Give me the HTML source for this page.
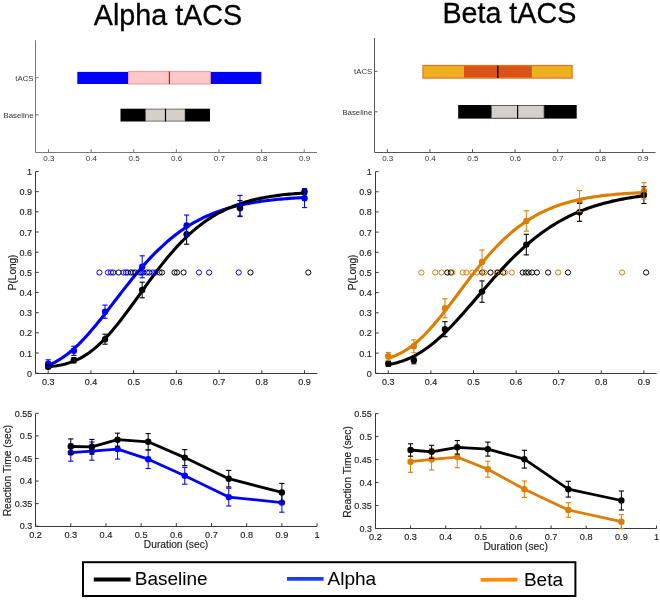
<!DOCTYPE html>
<html><head><meta charset="utf-8"><style>
html,body{margin:0;padding:0;background:#fff;width:660px;height:600px;overflow:hidden}
svg{display:block;will-change:transform}
text{font-family:"Liberation Sans", sans-serif}
</style></head><body>
<svg width="660" height="600" viewBox="0 0 660 600">
<rect x="0" y="0" width="660" height="600" fill="#fff"/>
<text x="93.80" y="24.50" font-size="28.7" fill="#000" stroke="#000" stroke-width="0.30" text-anchor="start" >Alpha tACS</text>
<text x="442.40" y="22.50" font-size="28.7" fill="#000" stroke="#000" stroke-width="0.30" text-anchor="start" >Beta tACS</text>
<line x1="35.50" y1="40.40" x2="35.50" y2="152.50" stroke="#777" stroke-width="1" />
<line x1="35.50" y1="152.50" x2="317.01" y2="152.50" stroke="#777" stroke-width="1" />
<line x1="48.50" y1="152.20" x2="48.50" y2="149.20" stroke="#777" stroke-width="1" />
<text x="48.80" y="160.50" font-size="8.0" fill="#333" stroke="#333" stroke-width="0.00" text-anchor="middle" >0.3</text>
<line x1="91.12" y1="152.20" x2="91.12" y2="149.20" stroke="#777" stroke-width="1" />
<text x="91.42" y="160.50" font-size="8.0" fill="#333" stroke="#333" stroke-width="0.00" text-anchor="middle" >0.4</text>
<line x1="133.74" y1="152.20" x2="133.74" y2="149.20" stroke="#777" stroke-width="1" />
<text x="134.04" y="160.50" font-size="8.0" fill="#333" stroke="#333" stroke-width="0.00" text-anchor="middle" >0.5</text>
<line x1="176.36" y1="152.20" x2="176.36" y2="149.20" stroke="#777" stroke-width="1" />
<text x="176.66" y="160.50" font-size="8.0" fill="#333" stroke="#333" stroke-width="0.00" text-anchor="middle" >0.6</text>
<line x1="218.98" y1="152.20" x2="218.98" y2="149.20" stroke="#777" stroke-width="1" />
<text x="219.28" y="160.50" font-size="8.0" fill="#333" stroke="#333" stroke-width="0.00" text-anchor="middle" >0.7</text>
<line x1="261.60" y1="152.20" x2="261.60" y2="149.20" stroke="#777" stroke-width="1" />
<text x="261.90" y="160.50" font-size="8.0" fill="#333" stroke="#333" stroke-width="0.00" text-anchor="middle" >0.8</text>
<line x1="304.22" y1="152.20" x2="304.22" y2="149.20" stroke="#777" stroke-width="1" />
<text x="304.52" y="160.50" font-size="8.0" fill="#333" stroke="#333" stroke-width="0.00" text-anchor="middle" >0.9</text>
<line x1="35.70" y1="77.70" x2="38.70" y2="77.70" stroke="#777" stroke-width="1" />
<text x="33.50" y="80.50" font-size="7.8" fill="#333" stroke="#333" stroke-width="0.00" text-anchor="end" >tACS</text>
<line x1="35.70" y1="114.90" x2="38.70" y2="114.90" stroke="#777" stroke-width="1" />
<text x="33.50" y="117.70" font-size="7.8" fill="#333" stroke="#333" stroke-width="0.00" text-anchor="end" >Baseline</text>
<rect x="77.30" y="71.90" width="50.80" height="12.10" fill="#0000ff" stroke="none" stroke-width="0"/>
<rect x="128.60" y="71.50" width="81.80" height="12.50" fill="#ffc8c8" stroke="#e4a4a4" stroke-width="1.2"/>
<rect x="210.90" y="71.90" width="50.40" height="12.10" fill="#0000ff" stroke="none" stroke-width="0"/>
<line x1="169.40" y1="71.50" x2="169.40" y2="84.00" stroke="#ff0000" stroke-width="1.2" />
<rect x="120.50" y="108.70" width="25.10" height="12.80" fill="#000" stroke="none" stroke-width="0"/>
<rect x="145.60" y="109.10" width="39.50" height="12.00" fill="#d4d0c8" stroke="#555" stroke-width="0.8"/>
<rect x="185.10" y="108.70" width="24.90" height="12.80" fill="#000" stroke="none" stroke-width="0"/>
<line x1="165.50" y1="108.70" x2="165.50" y2="121.50" stroke="#000" stroke-width="1.2" />
<line x1="374.50" y1="38.00" x2="374.50" y2="152.50" stroke="#555" stroke-width="1" />
<line x1="374.50" y1="152.50" x2="655.46" y2="152.50" stroke="#555" stroke-width="1" />
<line x1="387.40" y1="152.20" x2="387.40" y2="149.20" stroke="#555" stroke-width="1" />
<text x="387.70" y="160.50" font-size="8.0" fill="#333" stroke="#333" stroke-width="0.00" text-anchor="middle" >0.3</text>
<line x1="429.95" y1="152.20" x2="429.95" y2="149.20" stroke="#555" stroke-width="1" />
<text x="430.25" y="160.50" font-size="8.0" fill="#333" stroke="#333" stroke-width="0.00" text-anchor="middle" >0.4</text>
<line x1="472.50" y1="152.20" x2="472.50" y2="149.20" stroke="#555" stroke-width="1" />
<text x="472.80" y="160.50" font-size="8.0" fill="#333" stroke="#333" stroke-width="0.00" text-anchor="middle" >0.5</text>
<line x1="515.05" y1="152.20" x2="515.05" y2="149.20" stroke="#555" stroke-width="1" />
<text x="515.35" y="160.50" font-size="8.0" fill="#333" stroke="#333" stroke-width="0.00" text-anchor="middle" >0.6</text>
<line x1="557.60" y1="152.20" x2="557.60" y2="149.20" stroke="#555" stroke-width="1" />
<text x="557.90" y="160.50" font-size="8.0" fill="#333" stroke="#333" stroke-width="0.00" text-anchor="middle" >0.7</text>
<line x1="600.15" y1="152.20" x2="600.15" y2="149.20" stroke="#555" stroke-width="1" />
<text x="600.45" y="160.50" font-size="8.0" fill="#333" stroke="#333" stroke-width="0.00" text-anchor="middle" >0.8</text>
<line x1="642.70" y1="152.20" x2="642.70" y2="149.20" stroke="#555" stroke-width="1" />
<text x="643.00" y="160.50" font-size="8.0" fill="#333" stroke="#333" stroke-width="0.00" text-anchor="middle" >0.9</text>
<line x1="374.50" y1="71.30" x2="377.50" y2="71.30" stroke="#555" stroke-width="1" />
<text x="372.30" y="74.10" font-size="7.8" fill="#333" stroke="#333" stroke-width="0.00" text-anchor="end" >tACS</text>
<line x1="374.50" y1="111.80" x2="377.50" y2="111.80" stroke="#555" stroke-width="1" />
<text x="372.30" y="114.60" font-size="7.8" fill="#333" stroke="#333" stroke-width="0.00" text-anchor="end" >Baseline</text>
<rect x="423.00" y="65.50" width="149.10" height="12.60" fill="#edb120" stroke="#e8701c" stroke-width="1.2"/>
<rect x="464.00" y="66.10" width="67.80" height="11.40" fill="#d95319" stroke="none" stroke-width="0"/>
<line x1="497.80" y1="65.50" x2="497.80" y2="78.10" stroke="#000" stroke-width="1.3" />
<rect x="458.20" y="105.00" width="118.50" height="13.60" fill="#000" stroke="none" stroke-width="0"/>
<rect x="491.30" y="105.40" width="52.70" height="12.80" fill="#d4d0c8" stroke="#555" stroke-width="0.8"/>
<line x1="517.60" y1="105.00" x2="517.60" y2="118.60" stroke="#000" stroke-width="1.2" />
<line x1="35.50" y1="171.60" x2="35.50" y2="373.50" stroke="#383838" stroke-width="1" />
<line x1="35.50" y1="373.50" x2="317.34" y2="373.50" stroke="#383838" stroke-width="1" />
<line x1="48.20" y1="373.20" x2="48.20" y2="370.20" stroke="#383838" stroke-width="1" />
<text x="48.20" y="384.60" font-size="9" fill="#222" stroke="#222" stroke-width="0.15" text-anchor="middle" >0.3</text>
<line x1="90.92" y1="373.20" x2="90.92" y2="370.20" stroke="#383838" stroke-width="1" />
<text x="90.92" y="384.60" font-size="9" fill="#222" stroke="#222" stroke-width="0.15" text-anchor="middle" >0.4</text>
<line x1="133.64" y1="373.20" x2="133.64" y2="370.20" stroke="#383838" stroke-width="1" />
<text x="133.64" y="384.60" font-size="9" fill="#222" stroke="#222" stroke-width="0.15" text-anchor="middle" >0.5</text>
<line x1="176.36" y1="373.20" x2="176.36" y2="370.20" stroke="#383838" stroke-width="1" />
<text x="176.36" y="384.60" font-size="9" fill="#222" stroke="#222" stroke-width="0.15" text-anchor="middle" >0.6</text>
<line x1="219.08" y1="373.20" x2="219.08" y2="370.20" stroke="#383838" stroke-width="1" />
<text x="219.08" y="384.60" font-size="9" fill="#222" stroke="#222" stroke-width="0.15" text-anchor="middle" >0.7</text>
<line x1="261.80" y1="373.20" x2="261.80" y2="370.20" stroke="#383838" stroke-width="1" />
<text x="261.80" y="384.60" font-size="9" fill="#222" stroke="#222" stroke-width="0.15" text-anchor="middle" >0.8</text>
<line x1="304.52" y1="373.20" x2="304.52" y2="370.20" stroke="#383838" stroke-width="1" />
<text x="304.52" y="384.60" font-size="9" fill="#222" stroke="#222" stroke-width="0.15" text-anchor="middle" >0.9</text>
<line x1="35.70" y1="373.20" x2="38.70" y2="373.20" stroke="#383838" stroke-width="1" />
<text x="31.90" y="376.70" font-size="9" fill="#222" stroke="#222" stroke-width="0.15" text-anchor="end" >0</text>
<line x1="35.70" y1="353.03" x2="38.70" y2="353.03" stroke="#383838" stroke-width="1" />
<text x="31.90" y="356.53" font-size="9" fill="#222" stroke="#222" stroke-width="0.15" text-anchor="end" >0.1</text>
<line x1="35.70" y1="332.86" x2="38.70" y2="332.86" stroke="#383838" stroke-width="1" />
<text x="31.90" y="336.36" font-size="9" fill="#222" stroke="#222" stroke-width="0.15" text-anchor="end" >0.2</text>
<line x1="35.70" y1="312.69" x2="38.70" y2="312.69" stroke="#383838" stroke-width="1" />
<text x="31.90" y="316.19" font-size="9" fill="#222" stroke="#222" stroke-width="0.15" text-anchor="end" >0.3</text>
<line x1="35.70" y1="292.52" x2="38.70" y2="292.52" stroke="#383838" stroke-width="1" />
<text x="31.90" y="296.02" font-size="9" fill="#222" stroke="#222" stroke-width="0.15" text-anchor="end" >0.4</text>
<line x1="35.70" y1="272.35" x2="38.70" y2="272.35" stroke="#383838" stroke-width="1" />
<text x="31.90" y="275.85" font-size="9" fill="#222" stroke="#222" stroke-width="0.15" text-anchor="end" >0.5</text>
<line x1="35.70" y1="252.18" x2="38.70" y2="252.18" stroke="#383838" stroke-width="1" />
<text x="31.90" y="255.68" font-size="9" fill="#222" stroke="#222" stroke-width="0.15" text-anchor="end" >0.6</text>
<line x1="35.70" y1="232.01" x2="38.70" y2="232.01" stroke="#383838" stroke-width="1" />
<text x="31.90" y="235.51" font-size="9" fill="#222" stroke="#222" stroke-width="0.15" text-anchor="end" >0.7</text>
<line x1="35.70" y1="211.84" x2="38.70" y2="211.84" stroke="#383838" stroke-width="1" />
<text x="31.90" y="215.34" font-size="9" fill="#222" stroke="#222" stroke-width="0.15" text-anchor="end" >0.8</text>
<line x1="35.70" y1="191.67" x2="38.70" y2="191.67" stroke="#383838" stroke-width="1" />
<text x="31.90" y="195.17" font-size="9" fill="#222" stroke="#222" stroke-width="0.15" text-anchor="end" >0.9</text>
<line x1="35.70" y1="171.50" x2="38.70" y2="171.50" stroke="#383838" stroke-width="1" />
<text x="31.90" y="175.00" font-size="9" fill="#222" stroke="#222" stroke-width="0.15" text-anchor="end" >1</text>
<text x="0" y="0" font-size="10" fill="#222" stroke="#222" stroke-width="0.15" text-anchor="middle" transform="translate(15.70,272.4) rotate(-90)">P(Long)</text>
<polyline points="48.20,365.20 50.35,364.31 52.51,363.34 54.66,362.28 56.82,361.13 58.97,359.88 61.12,358.55 63.28,357.12 65.43,355.59 67.59,353.98 69.74,352.27 71.89,350.47 74.05,348.58 76.20,346.60 78.36,344.54 80.51,342.40 82.66,340.18 84.82,337.89 86.97,335.52 89.13,333.10 91.28,330.61 93.43,328.07 95.59,325.48 97.74,322.84 99.89,320.17 102.05,317.46 104.20,314.72 106.36,311.96 108.51,309.18 110.66,306.39 112.82,303.59 114.97,300.79 117.13,297.99 119.28,295.19 121.43,292.41 123.59,289.64 125.74,286.90 127.90,284.17 130.05,281.47 132.20,278.81 134.36,276.17 136.51,273.58 138.67,271.02 140.82,268.50 142.97,266.03 145.13,263.60 147.28,261.22 149.44,258.89 151.59,256.61 153.74,254.39 155.90,252.21 158.05,250.09 160.21,248.02 162.36,246.01 164.51,244.05 166.67,242.14 168.82,240.29 170.98,238.50 173.13,236.76 175.28,235.07 177.44,233.44 179.59,231.86 181.74,230.33 183.90,228.85 186.05,227.43 188.21,226.05 190.36,224.73 192.51,223.45 194.67,222.21 196.82,221.03 198.98,219.89 201.13,218.79 203.28,217.73 205.44,216.72 207.59,215.75 209.75,214.81 211.90,213.92 214.05,213.06 216.21,212.23 218.36,211.45 220.52,210.69 222.67,209.97 224.82,209.27 226.98,208.61 229.13,207.98 231.29,207.37 233.44,206.80 235.59,206.24 237.75,205.72 239.90,205.21 242.06,204.73 244.21,204.27 246.36,203.84 248.52,203.42 250.67,203.02 252.83,202.65 254.98,202.28 257.13,201.94 259.29,201.62 261.44,201.30 263.59,201.01 265.75,200.73 267.90,200.46 270.06,200.21 272.21,199.96 274.36,199.73 276.52,199.51 278.67,199.31 280.83,199.11 282.98,198.92 285.13,198.74 287.29,198.58 289.44,198.42 291.60,198.26 293.75,198.12 295.90,197.98 298.06,197.85 300.21,197.73 302.37,197.61 304.52,197.50" fill="none" stroke="#0000ff" stroke-width="3.1" stroke-linecap="round" stroke-linejoin="round"/>
<polyline points="48.20,366.66 50.35,366.47 52.51,366.25 54.66,365.99 56.82,365.68 58.97,365.32 61.12,364.91 63.28,364.44 65.43,363.91 67.59,363.31 69.74,362.64 71.89,361.89 74.05,361.05 76.20,360.14 78.36,359.13 80.51,358.03 82.66,356.84 84.82,355.55 86.97,354.17 89.13,352.68 91.28,351.09 93.43,349.40 95.59,347.61 97.74,345.72 99.89,343.74 102.05,341.65 104.20,339.48 106.36,337.22 108.51,334.87 110.66,332.44 112.82,329.93 114.97,327.35 117.13,324.70 119.28,321.99 121.43,319.23 123.59,316.41 125.74,313.55 127.90,310.65 130.05,307.72 132.20,304.77 134.36,301.79 136.51,298.81 138.67,295.81 140.82,292.81 142.97,289.82 145.13,286.83 147.28,283.86 149.44,280.91 151.59,277.99 153.74,275.09 155.90,272.23 158.05,269.40 160.21,266.62 162.36,263.88 164.51,261.19 166.67,258.55 168.82,255.96 170.98,253.42 173.13,250.95 175.28,248.53 177.44,246.17 179.59,243.88 181.74,241.65 183.90,239.48 186.05,237.37 188.21,235.33 190.36,233.36 192.51,231.44 194.67,229.59 196.82,227.81 198.98,226.09 201.13,224.42 203.28,222.83 205.44,221.29 207.59,219.81 209.75,218.39 211.90,217.02 214.05,215.71 216.21,214.46 218.36,213.26 220.52,212.11 222.67,211.01 224.82,209.96 226.98,208.95 229.13,208.00 231.29,207.08 233.44,206.21 235.59,205.38 237.75,204.59 239.90,203.84 242.06,203.12 244.21,202.45 246.36,201.80 248.52,201.19 250.67,200.61 252.83,200.05 254.98,199.53 257.13,199.04 259.29,198.57 261.44,198.12 263.59,197.70 265.75,197.30 267.90,196.93 270.06,196.57 272.21,196.24 274.36,195.92 276.52,195.62 278.67,195.34 280.83,195.07 282.98,194.82 285.13,194.58 287.29,194.36 289.44,194.15 291.60,193.95 293.75,193.77 295.90,193.59 298.06,193.43 300.21,193.27 302.37,193.13 304.52,192.99" fill="none" stroke="#000" stroke-width="3.1" stroke-linecap="round" stroke-linejoin="round"/>
<circle cx="99.40" cy="272.50" r="2.60" fill="none" stroke="#0000ff" stroke-width="1.0"/>
<circle cx="108.00" cy="272.50" r="2.60" fill="none" stroke="#0000ff" stroke-width="1.0"/>
<circle cx="111.00" cy="272.50" r="2.60" fill="none" stroke="#0000ff" stroke-width="1.0"/>
<circle cx="113.20" cy="272.50" r="2.60" fill="none" stroke="#0000ff" stroke-width="1.0"/>
<circle cx="118.60" cy="272.50" r="2.60" fill="none" stroke="#000" stroke-width="1.0"/>
<circle cx="123.50" cy="272.50" r="2.60" fill="none" stroke="#0000ff" stroke-width="1.0"/>
<circle cx="125.90" cy="272.50" r="2.60" fill="none" stroke="#0000ff" stroke-width="1.0"/>
<circle cx="127.70" cy="272.50" r="2.60" fill="none" stroke="#0000ff" stroke-width="1.0"/>
<circle cx="130.80" cy="272.50" r="2.60" fill="none" stroke="#000" stroke-width="1.0"/>
<circle cx="132.90" cy="272.50" r="2.60" fill="none" stroke="#0000ff" stroke-width="1.0"/>
<circle cx="135.30" cy="272.50" r="2.60" fill="none" stroke="#000" stroke-width="1.0"/>
<circle cx="139.50" cy="272.50" r="2.60" fill="none" stroke="#0000ff" stroke-width="1.0"/>
<circle cx="141.40" cy="272.50" r="2.60" fill="none" stroke="#000" stroke-width="1.0"/>
<circle cx="143.20" cy="272.50" r="2.60" fill="none" stroke="#0000ff" stroke-width="1.0"/>
<circle cx="146.80" cy="272.50" r="2.60" fill="none" stroke="#0000ff" stroke-width="1.0"/>
<circle cx="149.20" cy="272.50" r="2.60" fill="none" stroke="#000" stroke-width="1.0"/>
<circle cx="152.30" cy="272.50" r="2.60" fill="none" stroke="#0000ff" stroke-width="1.0"/>
<circle cx="155.30" cy="272.50" r="2.60" fill="none" stroke="#0000ff" stroke-width="1.0"/>
<circle cx="159.50" cy="272.50" r="2.60" fill="none" stroke="#000" stroke-width="1.0"/>
<circle cx="162.00" cy="272.50" r="2.60" fill="none" stroke="#000" stroke-width="1.0"/>
<circle cx="174.50" cy="272.50" r="2.60" fill="none" stroke="#000" stroke-width="1.0"/>
<circle cx="177.00" cy="272.50" r="2.60" fill="none" stroke="#000" stroke-width="1.0"/>
<circle cx="183.60" cy="272.50" r="2.60" fill="none" stroke="#000" stroke-width="1.0"/>
<circle cx="199.00" cy="272.50" r="2.60" fill="none" stroke="#0000ff" stroke-width="1.0"/>
<circle cx="209.10" cy="272.50" r="2.60" fill="none" stroke="#0000ff" stroke-width="1.0"/>
<circle cx="238.70" cy="272.50" r="2.60" fill="none" stroke="#0000ff" stroke-width="1.0"/>
<circle cx="250.50" cy="272.50" r="2.60" fill="none" stroke="#000" stroke-width="1.0"/>
<circle cx="308.30" cy="272.50" r="2.60" fill="none" stroke="#000" stroke-width="1.0"/>
<circle cx="48.20" cy="363.60" r="3.20" fill="#0000ff" stroke="none" stroke-width="0"/>
<circle cx="73.83" cy="350.80" r="3.20" fill="#0000ff" stroke="none" stroke-width="0"/>
<circle cx="105.02" cy="311.70" r="3.20" fill="#0000ff" stroke="none" stroke-width="0"/>
<circle cx="142.18" cy="266.80" r="3.20" fill="#0000ff" stroke="none" stroke-width="0"/>
<circle cx="186.61" cy="225.50" r="3.20" fill="#0000ff" stroke="none" stroke-width="0"/>
<circle cx="240.01" cy="206.00" r="3.20" fill="#0000ff" stroke="none" stroke-width="0"/>
<circle cx="304.52" cy="198.30" r="3.20" fill="#0000ff" stroke="none" stroke-width="0"/>
<circle cx="48.20" cy="366.70" r="3.20" fill="#000" stroke="none" stroke-width="0"/>
<circle cx="73.83" cy="360.30" r="3.20" fill="#000" stroke="none" stroke-width="0"/>
<circle cx="105.02" cy="339.20" r="3.20" fill="#000" stroke="none" stroke-width="0"/>
<circle cx="142.18" cy="290.00" r="3.20" fill="#000" stroke="none" stroke-width="0"/>
<circle cx="186.61" cy="234.20" r="3.20" fill="#000" stroke="none" stroke-width="0"/>
<circle cx="240.01" cy="208.30" r="3.20" fill="#000" stroke="none" stroke-width="0"/>
<circle cx="304.52" cy="191.70" r="3.20" fill="#000" stroke="none" stroke-width="0"/>
<line x1="48.20" y1="364.70" x2="48.20" y2="368.70" stroke="#000" stroke-width="1" />
<line x1="45.60" y1="364.70" x2="50.80" y2="364.70" stroke="#000" stroke-width="1.1" />
<line x1="45.60" y1="368.70" x2="50.80" y2="368.70" stroke="#000" stroke-width="1.1" />
<line x1="73.83" y1="357.80" x2="73.83" y2="362.80" stroke="#000" stroke-width="1" />
<line x1="71.23" y1="357.80" x2="76.43" y2="357.80" stroke="#000" stroke-width="1.1" />
<line x1="71.23" y1="362.80" x2="76.43" y2="362.80" stroke="#000" stroke-width="1.1" />
<line x1="105.02" y1="334.20" x2="105.02" y2="344.20" stroke="#000" stroke-width="1" />
<line x1="102.42" y1="334.20" x2="107.62" y2="334.20" stroke="#000" stroke-width="1.1" />
<line x1="102.42" y1="344.20" x2="107.62" y2="344.20" stroke="#000" stroke-width="1.1" />
<line x1="142.18" y1="282.20" x2="142.18" y2="297.80" stroke="#000" stroke-width="1" />
<line x1="139.58" y1="282.20" x2="144.78" y2="282.20" stroke="#000" stroke-width="1.1" />
<line x1="139.58" y1="297.80" x2="144.78" y2="297.80" stroke="#000" stroke-width="1.1" />
<line x1="186.61" y1="224.20" x2="186.61" y2="244.20" stroke="#000" stroke-width="1" />
<line x1="184.01" y1="224.20" x2="189.21" y2="224.20" stroke="#000" stroke-width="1.1" />
<line x1="184.01" y1="244.20" x2="189.21" y2="244.20" stroke="#000" stroke-width="1.1" />
<line x1="240.01" y1="200.60" x2="240.01" y2="216.00" stroke="#000" stroke-width="1" />
<line x1="237.41" y1="200.60" x2="242.61" y2="200.60" stroke="#000" stroke-width="1.1" />
<line x1="237.41" y1="216.00" x2="242.61" y2="216.00" stroke="#000" stroke-width="1.1" />
<line x1="304.52" y1="188.70" x2="304.52" y2="194.70" stroke="#000" stroke-width="1" />
<line x1="301.92" y1="188.70" x2="307.12" y2="188.70" stroke="#000" stroke-width="1.1" />
<line x1="301.92" y1="194.70" x2="307.12" y2="194.70" stroke="#000" stroke-width="1.1" />
<line x1="48.20" y1="359.80" x2="48.20" y2="367.40" stroke="#0000ff" stroke-width="1" />
<line x1="45.60" y1="359.80" x2="50.80" y2="359.80" stroke="#0000ff" stroke-width="1.1" />
<line x1="45.60" y1="367.40" x2="50.80" y2="367.40" stroke="#0000ff" stroke-width="1.1" />
<line x1="73.83" y1="346.20" x2="73.83" y2="355.40" stroke="#0000ff" stroke-width="1" />
<line x1="71.23" y1="346.20" x2="76.43" y2="346.20" stroke="#0000ff" stroke-width="1.1" />
<line x1="71.23" y1="355.40" x2="76.43" y2="355.40" stroke="#0000ff" stroke-width="1.1" />
<line x1="105.02" y1="305.10" x2="105.02" y2="318.30" stroke="#0000ff" stroke-width="1" />
<line x1="102.42" y1="305.10" x2="107.62" y2="305.10" stroke="#0000ff" stroke-width="1.1" />
<line x1="102.42" y1="318.30" x2="107.62" y2="318.30" stroke="#0000ff" stroke-width="1.1" />
<line x1="142.18" y1="255.80" x2="142.18" y2="277.80" stroke="#0000ff" stroke-width="1" />
<line x1="139.58" y1="255.80" x2="144.78" y2="255.80" stroke="#0000ff" stroke-width="1.1" />
<line x1="139.58" y1="277.80" x2="144.78" y2="277.80" stroke="#0000ff" stroke-width="1.1" />
<line x1="186.61" y1="215.00" x2="186.61" y2="236.00" stroke="#0000ff" stroke-width="1" />
<line x1="184.01" y1="215.00" x2="189.21" y2="215.00" stroke="#0000ff" stroke-width="1.1" />
<line x1="184.01" y1="236.00" x2="189.21" y2="236.00" stroke="#0000ff" stroke-width="1.1" />
<line x1="240.01" y1="195.40" x2="240.01" y2="216.60" stroke="#0000ff" stroke-width="1" />
<line x1="237.41" y1="195.40" x2="242.61" y2="195.40" stroke="#0000ff" stroke-width="1.1" />
<line x1="237.41" y1="216.60" x2="242.61" y2="216.60" stroke="#0000ff" stroke-width="1.1" />
<line x1="304.52" y1="189.00" x2="304.52" y2="207.60" stroke="#0000ff" stroke-width="1" />
<line x1="301.92" y1="189.00" x2="307.12" y2="189.00" stroke="#0000ff" stroke-width="1.1" />
<line x1="301.92" y1="207.60" x2="307.12" y2="207.60" stroke="#0000ff" stroke-width="1.1" />
<line x1="375.50" y1="171.60" x2="375.50" y2="373.50" stroke="#383838" stroke-width="1" />
<line x1="375.50" y1="373.50" x2="656.68" y2="373.50" stroke="#383838" stroke-width="1" />
<line x1="388.30" y1="373.30" x2="388.30" y2="370.30" stroke="#383838" stroke-width="1" />
<text x="388.30" y="384.60" font-size="9" fill="#222" stroke="#222" stroke-width="0.15" text-anchor="middle" >0.3</text>
<line x1="430.90" y1="373.30" x2="430.90" y2="370.30" stroke="#383838" stroke-width="1" />
<text x="430.90" y="384.60" font-size="9" fill="#222" stroke="#222" stroke-width="0.15" text-anchor="middle" >0.4</text>
<line x1="473.50" y1="373.30" x2="473.50" y2="370.30" stroke="#383838" stroke-width="1" />
<text x="473.50" y="384.60" font-size="9" fill="#222" stroke="#222" stroke-width="0.15" text-anchor="middle" >0.5</text>
<line x1="516.10" y1="373.30" x2="516.10" y2="370.30" stroke="#383838" stroke-width="1" />
<text x="516.10" y="384.60" font-size="9" fill="#222" stroke="#222" stroke-width="0.15" text-anchor="middle" >0.6</text>
<line x1="558.70" y1="373.30" x2="558.70" y2="370.30" stroke="#383838" stroke-width="1" />
<text x="558.70" y="384.60" font-size="9" fill="#222" stroke="#222" stroke-width="0.15" text-anchor="middle" >0.7</text>
<line x1="601.30" y1="373.30" x2="601.30" y2="370.30" stroke="#383838" stroke-width="1" />
<text x="601.30" y="384.60" font-size="9" fill="#222" stroke="#222" stroke-width="0.15" text-anchor="middle" >0.8</text>
<line x1="643.90" y1="373.30" x2="643.90" y2="370.30" stroke="#383838" stroke-width="1" />
<text x="643.90" y="384.60" font-size="9" fill="#222" stroke="#222" stroke-width="0.15" text-anchor="middle" >0.9</text>
<line x1="375.60" y1="373.30" x2="378.60" y2="373.30" stroke="#383838" stroke-width="1" />
<text x="371.80" y="376.80" font-size="9" fill="#222" stroke="#222" stroke-width="0.15" text-anchor="end" >0</text>
<line x1="375.60" y1="353.13" x2="378.60" y2="353.13" stroke="#383838" stroke-width="1" />
<text x="371.80" y="356.63" font-size="9" fill="#222" stroke="#222" stroke-width="0.15" text-anchor="end" >0.1</text>
<line x1="375.60" y1="332.96" x2="378.60" y2="332.96" stroke="#383838" stroke-width="1" />
<text x="371.80" y="336.46" font-size="9" fill="#222" stroke="#222" stroke-width="0.15" text-anchor="end" >0.2</text>
<line x1="375.60" y1="312.79" x2="378.60" y2="312.79" stroke="#383838" stroke-width="1" />
<text x="371.80" y="316.29" font-size="9" fill="#222" stroke="#222" stroke-width="0.15" text-anchor="end" >0.3</text>
<line x1="375.60" y1="292.62" x2="378.60" y2="292.62" stroke="#383838" stroke-width="1" />
<text x="371.80" y="296.12" font-size="9" fill="#222" stroke="#222" stroke-width="0.15" text-anchor="end" >0.4</text>
<line x1="375.60" y1="272.45" x2="378.60" y2="272.45" stroke="#383838" stroke-width="1" />
<text x="371.80" y="275.95" font-size="9" fill="#222" stroke="#222" stroke-width="0.15" text-anchor="end" >0.5</text>
<line x1="375.60" y1="252.28" x2="378.60" y2="252.28" stroke="#383838" stroke-width="1" />
<text x="371.80" y="255.78" font-size="9" fill="#222" stroke="#222" stroke-width="0.15" text-anchor="end" >0.6</text>
<line x1="375.60" y1="232.11" x2="378.60" y2="232.11" stroke="#383838" stroke-width="1" />
<text x="371.80" y="235.61" font-size="9" fill="#222" stroke="#222" stroke-width="0.15" text-anchor="end" >0.7</text>
<line x1="375.60" y1="211.94" x2="378.60" y2="211.94" stroke="#383838" stroke-width="1" />
<text x="371.80" y="215.44" font-size="9" fill="#222" stroke="#222" stroke-width="0.15" text-anchor="end" >0.8</text>
<line x1="375.60" y1="191.77" x2="378.60" y2="191.77" stroke="#383838" stroke-width="1" />
<text x="371.80" y="195.27" font-size="9" fill="#222" stroke="#222" stroke-width="0.15" text-anchor="end" >0.9</text>
<line x1="375.60" y1="171.60" x2="378.60" y2="171.60" stroke="#383838" stroke-width="1" />
<text x="371.80" y="175.10" font-size="9" fill="#222" stroke="#222" stroke-width="0.15" text-anchor="end" >1</text>
<text x="0" y="0" font-size="10" fill="#222" stroke="#222" stroke-width="0.15" text-anchor="middle" transform="translate(355.60,272.4) rotate(-90)">P(Long)</text>
<polyline points="388.30,358.13 390.45,357.46 392.60,356.71 394.74,355.88 396.89,354.97 399.04,353.96 401.19,352.87 403.34,351.68 405.48,350.39 407.63,349.01 409.78,347.53 411.93,345.95 414.07,344.27 416.22,342.50 418.37,340.63 420.52,338.67 422.67,336.62 424.81,334.48 426.96,332.25 429.11,329.95 431.26,327.57 433.41,325.12 435.55,322.61 437.70,320.03 439.85,317.41 442.00,314.73 444.15,312.00 446.29,309.24 448.44,306.45 450.59,303.64 452.74,300.80 454.88,297.95 457.03,295.09 459.18,292.23 461.33,289.37 463.48,286.51 465.62,283.67 467.77,280.85 469.92,278.05 472.07,275.28 474.22,272.54 476.36,269.83 478.51,267.15 480.66,264.52 482.81,261.93 484.96,259.39 487.10,256.90 489.25,254.46 491.40,252.07 493.55,249.73 495.69,247.45 497.84,245.23 499.99,243.06 502.14,240.96 504.29,238.91 506.43,236.92 508.58,234.99 510.73,233.12 512.88,231.31 515.03,229.56 517.17,227.86 519.32,226.23 521.47,224.65 523.62,223.13 525.77,221.66 527.91,220.25 530.06,218.89 532.21,217.58 534.36,216.33 536.51,215.12 538.65,213.96 540.80,212.85 542.95,211.79 545.10,210.77 547.24,209.80 549.39,208.87 551.54,207.98 553.69,207.12 555.84,206.31 557.98,205.53 560.13,204.79 562.28,204.08 564.43,203.41 566.58,202.77 568.72,202.16 570.87,201.57 573.02,201.02 575.17,200.49 577.32,199.99 579.46,199.52 581.61,199.06 583.76,198.63 585.91,198.23 588.05,197.84 590.20,197.47 592.35,197.12 594.50,196.79 596.65,196.48 598.79,196.18 600.94,195.90 603.09,195.63 605.24,195.38 607.39,195.14 609.53,194.92 611.68,194.71 613.83,194.50 615.98,194.31 618.13,194.13 620.27,193.96 622.42,193.80 624.57,193.65 626.72,193.51 628.86,193.37 631.01,193.24 633.16,193.12 635.31,193.01 637.46,192.90 639.60,192.80 641.75,192.70 643.90,192.61" fill="none" stroke="#dc7e02" stroke-width="3.1" stroke-linecap="round" stroke-linejoin="round"/>
<polyline points="388.30,364.49 390.45,364.10 392.60,363.67 394.74,363.18 396.89,362.64 399.04,362.04 401.19,361.38 403.34,360.66 405.48,359.87 407.63,359.01 409.78,358.09 411.93,357.09 414.07,356.02 416.22,354.88 418.37,353.67 420.52,352.38 422.67,351.01 424.81,349.57 426.96,348.06 429.11,346.47 431.26,344.82 433.41,343.09 435.55,341.29 437.70,339.43 439.85,337.51 442.00,335.52 444.15,333.48 446.29,331.38 448.44,329.23 450.59,327.02 452.74,324.78 454.88,322.49 457.03,320.16 459.18,317.80 461.33,315.41 463.48,312.99 465.62,310.55 467.77,308.09 469.92,305.61 472.07,303.12 474.22,300.63 476.36,298.13 478.51,295.62 480.66,293.12 482.81,290.63 484.96,288.14 487.10,285.66 489.25,283.20 491.40,280.76 493.55,278.33 495.69,275.93 497.84,273.55 499.99,271.20 502.14,268.88 504.29,266.59 506.43,264.34 508.58,262.11 510.73,259.92 512.88,257.77 515.03,255.66 517.17,253.59 519.32,251.56 521.47,249.56 523.62,247.61 525.77,245.71 527.91,243.84 530.06,242.02 532.21,240.24 534.36,238.50 536.51,236.81 538.65,235.16 540.80,233.56 542.95,231.99 545.10,230.47 547.24,229.00 549.39,227.56 551.54,226.17 553.69,224.82 555.84,223.51 557.98,222.24 560.13,221.01 562.28,219.81 564.43,218.66 566.58,217.54 568.72,216.46 570.87,215.42 573.02,214.41 575.17,213.44 577.32,212.50 579.46,211.59 581.61,210.71 583.76,209.87 585.91,209.06 588.05,208.27 590.20,207.52 592.35,206.79 594.50,206.09 596.65,205.41 598.79,204.77 600.94,204.14 603.09,203.54 605.24,202.97 607.39,202.41 609.53,201.88 611.68,201.37 613.83,200.88 615.98,200.41 618.13,199.96 620.27,199.53 622.42,199.11 624.57,198.71 626.72,198.33 628.86,197.97 631.01,197.62 633.16,197.28 635.31,196.96 637.46,196.65 639.60,196.36 641.75,196.07 643.90,195.80" fill="none" stroke="#000" stroke-width="3.1" stroke-linecap="round" stroke-linejoin="round"/>
<circle cx="421.40" cy="272.50" r="2.60" fill="none" stroke="#dc7e02" stroke-width="1.0"/>
<circle cx="435.20" cy="272.50" r="2.60" fill="none" stroke="#dc7e02" stroke-width="1.0"/>
<circle cx="441.50" cy="272.50" r="2.60" fill="none" stroke="#dc7e02" stroke-width="1.0"/>
<circle cx="447.30" cy="272.50" r="2.60" fill="none" stroke="#000" stroke-width="1.0"/>
<circle cx="450.90" cy="272.50" r="2.60" fill="none" stroke="#000" stroke-width="1.0"/>
<circle cx="452.30" cy="272.50" r="2.60" fill="none" stroke="#dc7e02" stroke-width="1.0"/>
<circle cx="462.70" cy="272.50" r="2.60" fill="none" stroke="#dc7e02" stroke-width="1.0"/>
<circle cx="466.40" cy="272.50" r="2.60" fill="none" stroke="#dc7e02" stroke-width="1.0"/>
<circle cx="472.30" cy="272.50" r="2.60" fill="none" stroke="#dc7e02" stroke-width="1.0"/>
<circle cx="476.80" cy="272.50" r="2.60" fill="none" stroke="#dc7e02" stroke-width="1.0"/>
<circle cx="482.30" cy="272.50" r="2.60" fill="none" stroke="#000" stroke-width="1.0"/>
<circle cx="484.50" cy="272.50" r="2.60" fill="none" stroke="#dc7e02" stroke-width="1.0"/>
<circle cx="490.50" cy="272.50" r="2.60" fill="none" stroke="#000" stroke-width="1.0"/>
<circle cx="496.40" cy="272.50" r="2.60" fill="none" stroke="#dc7e02" stroke-width="1.0"/>
<circle cx="497.70" cy="272.50" r="2.60" fill="none" stroke="#000" stroke-width="1.0"/>
<circle cx="503.20" cy="272.50" r="2.60" fill="none" stroke="#000" stroke-width="1.0"/>
<circle cx="505.00" cy="272.50" r="2.60" fill="none" stroke="#dc7e02" stroke-width="1.0"/>
<circle cx="511.80" cy="272.50" r="2.60" fill="none" stroke="#dc7e02" stroke-width="1.0"/>
<circle cx="522.70" cy="272.50" r="2.60" fill="none" stroke="#000" stroke-width="1.0"/>
<circle cx="525.90" cy="272.50" r="2.60" fill="none" stroke="#000" stroke-width="1.0"/>
<circle cx="528.60" cy="272.50" r="2.60" fill="none" stroke="#000" stroke-width="1.0"/>
<circle cx="532.00" cy="272.50" r="2.60" fill="none" stroke="#000" stroke-width="1.0"/>
<circle cx="536.90" cy="272.50" r="2.60" fill="none" stroke="#000" stroke-width="1.0"/>
<circle cx="548.10" cy="272.50" r="2.60" fill="none" stroke="#000" stroke-width="1.0"/>
<circle cx="558.10" cy="272.50" r="2.60" fill="none" stroke="#dc7e02" stroke-width="1.0"/>
<circle cx="568.00" cy="272.50" r="2.60" fill="none" stroke="#000" stroke-width="1.0"/>
<circle cx="622.10" cy="272.50" r="2.60" fill="none" stroke="#dc7e02" stroke-width="1.0"/>
<circle cx="646.10" cy="272.50" r="2.60" fill="none" stroke="#000" stroke-width="1.0"/>
<circle cx="388.30" cy="356.30" r="3.20" fill="#dc7e02" stroke="none" stroke-width="0"/>
<circle cx="413.86" cy="346.30" r="3.20" fill="#dc7e02" stroke="none" stroke-width="0"/>
<circle cx="444.96" cy="308.30" r="3.20" fill="#dc7e02" stroke="none" stroke-width="0"/>
<circle cx="482.02" cy="262.00" r="3.20" fill="#dc7e02" stroke="none" stroke-width="0"/>
<circle cx="526.32" cy="221.00" r="3.20" fill="#dc7e02" stroke="none" stroke-width="0"/>
<circle cx="579.57" cy="201.10" r="3.20" fill="#dc7e02" stroke="none" stroke-width="0"/>
<circle cx="643.90" cy="190.90" r="3.20" fill="#dc7e02" stroke="none" stroke-width="0"/>
<circle cx="388.30" cy="363.70" r="3.20" fill="#000" stroke="none" stroke-width="0"/>
<circle cx="413.86" cy="360.30" r="3.20" fill="#000" stroke="none" stroke-width="0"/>
<circle cx="444.96" cy="329.20" r="3.20" fill="#000" stroke="none" stroke-width="0"/>
<circle cx="482.02" cy="291.60" r="3.20" fill="#000" stroke="none" stroke-width="0"/>
<circle cx="526.32" cy="244.60" r="3.20" fill="#000" stroke="none" stroke-width="0"/>
<circle cx="579.57" cy="212.30" r="3.20" fill="#000" stroke="none" stroke-width="0"/>
<circle cx="643.90" cy="195.10" r="3.20" fill="#000" stroke="none" stroke-width="0"/>
<line x1="388.30" y1="361.20" x2="388.30" y2="366.20" stroke="#000" stroke-width="1" />
<line x1="385.70" y1="361.20" x2="390.90" y2="361.20" stroke="#000" stroke-width="1.1" />
<line x1="385.70" y1="366.20" x2="390.90" y2="366.20" stroke="#000" stroke-width="1.1" />
<line x1="413.86" y1="356.80" x2="413.86" y2="363.80" stroke="#000" stroke-width="1" />
<line x1="411.26" y1="356.80" x2="416.46" y2="356.80" stroke="#000" stroke-width="1.1" />
<line x1="411.26" y1="363.80" x2="416.46" y2="363.80" stroke="#000" stroke-width="1.1" />
<line x1="444.96" y1="321.70" x2="444.96" y2="336.70" stroke="#000" stroke-width="1" />
<line x1="442.36" y1="321.70" x2="447.56" y2="321.70" stroke="#000" stroke-width="1.1" />
<line x1="442.36" y1="336.70" x2="447.56" y2="336.70" stroke="#000" stroke-width="1.1" />
<line x1="482.02" y1="280.90" x2="482.02" y2="302.30" stroke="#000" stroke-width="1" />
<line x1="479.42" y1="280.90" x2="484.62" y2="280.90" stroke="#000" stroke-width="1.1" />
<line x1="479.42" y1="302.30" x2="484.62" y2="302.30" stroke="#000" stroke-width="1.1" />
<line x1="526.32" y1="234.30" x2="526.32" y2="254.90" stroke="#000" stroke-width="1" />
<line x1="523.72" y1="234.30" x2="528.92" y2="234.30" stroke="#000" stroke-width="1.1" />
<line x1="523.72" y1="254.90" x2="528.92" y2="254.90" stroke="#000" stroke-width="1.1" />
<line x1="579.57" y1="203.30" x2="579.57" y2="221.30" stroke="#000" stroke-width="1" />
<line x1="576.97" y1="203.30" x2="582.17" y2="203.30" stroke="#000" stroke-width="1.1" />
<line x1="576.97" y1="221.30" x2="582.17" y2="221.30" stroke="#000" stroke-width="1.1" />
<line x1="643.90" y1="186.70" x2="643.90" y2="203.50" stroke="#000" stroke-width="1" />
<line x1="641.30" y1="186.70" x2="646.50" y2="186.70" stroke="#000" stroke-width="1.1" />
<line x1="641.30" y1="203.50" x2="646.50" y2="203.50" stroke="#000" stroke-width="1.1" />
<line x1="388.30" y1="352.40" x2="388.30" y2="360.20" stroke="#dc7e02" stroke-width="1" />
<line x1="385.70" y1="352.40" x2="390.90" y2="352.40" stroke="#dc7e02" stroke-width="1.1" />
<line x1="385.70" y1="360.20" x2="390.90" y2="360.20" stroke="#dc7e02" stroke-width="1.1" />
<line x1="413.86" y1="339.80" x2="413.86" y2="352.80" stroke="#dc7e02" stroke-width="1" />
<line x1="411.26" y1="339.80" x2="416.46" y2="339.80" stroke="#dc7e02" stroke-width="1.1" />
<line x1="411.26" y1="352.80" x2="416.46" y2="352.80" stroke="#dc7e02" stroke-width="1.1" />
<line x1="444.96" y1="298.80" x2="444.96" y2="317.80" stroke="#dc7e02" stroke-width="1" />
<line x1="442.36" y1="298.80" x2="447.56" y2="298.80" stroke="#dc7e02" stroke-width="1.1" />
<line x1="442.36" y1="317.80" x2="447.56" y2="317.80" stroke="#dc7e02" stroke-width="1.1" />
<line x1="482.02" y1="250.00" x2="482.02" y2="274.00" stroke="#dc7e02" stroke-width="1" />
<line x1="479.42" y1="250.00" x2="484.62" y2="250.00" stroke="#dc7e02" stroke-width="1.1" />
<line x1="479.42" y1="274.00" x2="484.62" y2="274.00" stroke="#dc7e02" stroke-width="1.1" />
<line x1="526.32" y1="210.80" x2="526.32" y2="231.20" stroke="#dc7e02" stroke-width="1" />
<line x1="523.72" y1="210.80" x2="528.92" y2="210.80" stroke="#dc7e02" stroke-width="1.1" />
<line x1="523.72" y1="231.20" x2="528.92" y2="231.20" stroke="#dc7e02" stroke-width="1.1" />
<line x1="579.57" y1="190.50" x2="579.57" y2="211.70" stroke="#dc7e02" stroke-width="1" />
<line x1="576.97" y1="190.50" x2="582.17" y2="190.50" stroke="#dc7e02" stroke-width="1.1" />
<line x1="576.97" y1="211.70" x2="582.17" y2="211.70" stroke="#dc7e02" stroke-width="1.1" />
<line x1="643.90" y1="182.70" x2="643.90" y2="199.10" stroke="#dc7e02" stroke-width="1" />
<line x1="641.30" y1="182.70" x2="646.50" y2="182.70" stroke="#dc7e02" stroke-width="1.1" />
<line x1="641.30" y1="199.10" x2="646.50" y2="199.10" stroke="#dc7e02" stroke-width="1.1" />
<line x1="35.50" y1="413.30" x2="35.50" y2="526.50" stroke="#383838" stroke-width="1" />
<line x1="35.50" y1="526.50" x2="317.04" y2="526.50" stroke="#383838" stroke-width="1" />
<line x1="35.60" y1="526.20" x2="35.60" y2="523.20" stroke="#383838" stroke-width="1" />
<text x="35.60" y="538.00" font-size="9.2" fill="#222" stroke="#222" stroke-width="0.15" text-anchor="middle" >0.2</text>
<line x1="70.78" y1="526.20" x2="70.78" y2="523.20" stroke="#383838" stroke-width="1" />
<text x="70.78" y="538.00" font-size="9.2" fill="#222" stroke="#222" stroke-width="0.15" text-anchor="middle" >0.3</text>
<line x1="105.96" y1="526.20" x2="105.96" y2="523.20" stroke="#383838" stroke-width="1" />
<text x="105.96" y="538.00" font-size="9.2" fill="#222" stroke="#222" stroke-width="0.15" text-anchor="middle" >0.4</text>
<line x1="141.14" y1="526.20" x2="141.14" y2="523.20" stroke="#383838" stroke-width="1" />
<text x="141.14" y="538.00" font-size="9.2" fill="#222" stroke="#222" stroke-width="0.15" text-anchor="middle" >0.5</text>
<line x1="176.32" y1="526.20" x2="176.32" y2="523.20" stroke="#383838" stroke-width="1" />
<text x="176.32" y="538.00" font-size="9.2" fill="#222" stroke="#222" stroke-width="0.15" text-anchor="middle" >0.6</text>
<line x1="211.50" y1="526.20" x2="211.50" y2="523.20" stroke="#383838" stroke-width="1" />
<text x="211.50" y="538.00" font-size="9.2" fill="#222" stroke="#222" stroke-width="0.15" text-anchor="middle" >0.7</text>
<line x1="246.68" y1="526.20" x2="246.68" y2="523.20" stroke="#383838" stroke-width="1" />
<text x="246.68" y="538.00" font-size="9.2" fill="#222" stroke="#222" stroke-width="0.15" text-anchor="middle" >0.8</text>
<line x1="281.86" y1="526.20" x2="281.86" y2="523.20" stroke="#383838" stroke-width="1" />
<text x="281.86" y="538.00" font-size="9.2" fill="#222" stroke="#222" stroke-width="0.15" text-anchor="middle" >0.9</text>
<line x1="317.04" y1="526.20" x2="317.04" y2="523.20" stroke="#383838" stroke-width="1" />
<text x="317.04" y="538.00" font-size="9.2" fill="#222" stroke="#222" stroke-width="0.15" text-anchor="middle" >1</text>
<line x1="35.70" y1="526.20" x2="38.70" y2="526.20" stroke="#383838" stroke-width="1" />
<text x="32.20" y="529.40" font-size="9" fill="#222" stroke="#222" stroke-width="0.15" text-anchor="end" >0.3</text>
<line x1="35.70" y1="503.62" x2="38.70" y2="503.62" stroke="#383838" stroke-width="1" />
<text x="32.20" y="506.82" font-size="9" fill="#222" stroke="#222" stroke-width="0.15" text-anchor="end" >0.35</text>
<line x1="35.70" y1="481.04" x2="38.70" y2="481.04" stroke="#383838" stroke-width="1" />
<text x="32.20" y="484.24" font-size="9" fill="#222" stroke="#222" stroke-width="0.15" text-anchor="end" >0.4</text>
<line x1="35.70" y1="458.46" x2="38.70" y2="458.46" stroke="#383838" stroke-width="1" />
<text x="32.20" y="461.66" font-size="9" fill="#222" stroke="#222" stroke-width="0.15" text-anchor="end" >0.45</text>
<line x1="35.70" y1="435.88" x2="38.70" y2="435.88" stroke="#383838" stroke-width="1" />
<text x="32.20" y="439.08" font-size="9" fill="#222" stroke="#222" stroke-width="0.15" text-anchor="end" >0.5</text>
<line x1="35.70" y1="413.30" x2="38.70" y2="413.30" stroke="#383838" stroke-width="1" />
<text x="32.20" y="416.50" font-size="9" fill="#222" stroke="#222" stroke-width="0.15" text-anchor="end" >0.55</text>
<text x="176.02" y="548.20" font-size="10.25" fill="#222" stroke="#222" stroke-width="0.15" text-anchor="middle" >Duration (sec)</text>
<text x="0" y="0" font-size="10.3" fill="#222" stroke="#222" stroke-width="0.15" text-anchor="middle" transform="translate(11.20,470.55) rotate(-90)">Reaction Time (sec)</text>
<polyline points="70.78,452.60 91.89,451.10 117.57,449.10 148.18,459.20 184.76,475.80 228.74,497.10 281.86,502.60" fill="none" stroke="#0000ff" stroke-width="2.8" stroke-linejoin="round"/>
<line x1="70.78" y1="444.00" x2="70.78" y2="461.20" stroke="#0000ff" stroke-width="1" />
<line x1="68.18" y1="444.00" x2="73.38" y2="444.00" stroke="#0000ff" stroke-width="1.1" />
<line x1="68.18" y1="461.20" x2="73.38" y2="461.20" stroke="#0000ff" stroke-width="1.1" />
<circle cx="70.78" cy="452.60" r="3.20" fill="#0000ff" stroke="none" stroke-width="0"/>
<line x1="91.89" y1="442.00" x2="91.89" y2="460.20" stroke="#0000ff" stroke-width="1" />
<line x1="89.29" y1="442.00" x2="94.49" y2="442.00" stroke="#0000ff" stroke-width="1.1" />
<line x1="89.29" y1="460.20" x2="94.49" y2="460.20" stroke="#0000ff" stroke-width="1.1" />
<circle cx="91.89" cy="451.10" r="3.20" fill="#0000ff" stroke="none" stroke-width="0"/>
<line x1="117.57" y1="439.10" x2="117.57" y2="459.10" stroke="#0000ff" stroke-width="1" />
<line x1="114.97" y1="439.10" x2="120.17" y2="439.10" stroke="#0000ff" stroke-width="1.1" />
<line x1="114.97" y1="459.10" x2="120.17" y2="459.10" stroke="#0000ff" stroke-width="1.1" />
<circle cx="117.57" cy="449.10" r="3.20" fill="#0000ff" stroke="none" stroke-width="0"/>
<line x1="148.18" y1="449.90" x2="148.18" y2="468.50" stroke="#0000ff" stroke-width="1" />
<line x1="145.58" y1="449.90" x2="150.78" y2="449.90" stroke="#0000ff" stroke-width="1.1" />
<line x1="145.58" y1="468.50" x2="150.78" y2="468.50" stroke="#0000ff" stroke-width="1.1" />
<circle cx="148.18" cy="459.20" r="3.20" fill="#0000ff" stroke="none" stroke-width="0"/>
<line x1="184.76" y1="467.40" x2="184.76" y2="484.20" stroke="#0000ff" stroke-width="1" />
<line x1="182.16" y1="467.40" x2="187.36" y2="467.40" stroke="#0000ff" stroke-width="1.1" />
<line x1="182.16" y1="484.20" x2="187.36" y2="484.20" stroke="#0000ff" stroke-width="1.1" />
<circle cx="184.76" cy="475.80" r="3.20" fill="#0000ff" stroke="none" stroke-width="0"/>
<line x1="228.74" y1="488.20" x2="228.74" y2="506.00" stroke="#0000ff" stroke-width="1" />
<line x1="226.14" y1="488.20" x2="231.34" y2="488.20" stroke="#0000ff" stroke-width="1.1" />
<line x1="226.14" y1="506.00" x2="231.34" y2="506.00" stroke="#0000ff" stroke-width="1.1" />
<circle cx="228.74" cy="497.10" r="3.20" fill="#0000ff" stroke="none" stroke-width="0"/>
<line x1="281.86" y1="493.00" x2="281.86" y2="512.20" stroke="#0000ff" stroke-width="1" />
<line x1="279.26" y1="493.00" x2="284.46" y2="493.00" stroke="#0000ff" stroke-width="1.1" />
<line x1="279.26" y1="512.20" x2="284.46" y2="512.20" stroke="#0000ff" stroke-width="1.1" />
<circle cx="281.86" cy="502.60" r="3.20" fill="#0000ff" stroke="none" stroke-width="0"/>
<polyline points="70.78,446.50 91.89,446.80 117.57,439.70 148.18,441.80 184.76,457.60 228.74,478.70 281.86,492.40" fill="none" stroke="#000" stroke-width="2.8" stroke-linejoin="round"/>
<line x1="70.78" y1="438.90" x2="70.78" y2="454.10" stroke="#000" stroke-width="1" />
<line x1="68.18" y1="438.90" x2="73.38" y2="438.90" stroke="#000" stroke-width="1.1" />
<line x1="68.18" y1="454.10" x2="73.38" y2="454.10" stroke="#000" stroke-width="1.1" />
<circle cx="70.78" cy="446.50" r="3.20" fill="#000" stroke="none" stroke-width="0"/>
<line x1="91.89" y1="439.40" x2="91.89" y2="454.20" stroke="#000" stroke-width="1" />
<line x1="89.29" y1="439.40" x2="94.49" y2="439.40" stroke="#000" stroke-width="1.1" />
<line x1="89.29" y1="454.20" x2="94.49" y2="454.20" stroke="#000" stroke-width="1.1" />
<circle cx="91.89" cy="446.80" r="3.20" fill="#000" stroke="none" stroke-width="0"/>
<line x1="117.57" y1="433.20" x2="117.57" y2="446.20" stroke="#000" stroke-width="1" />
<line x1="114.97" y1="433.20" x2="120.17" y2="433.20" stroke="#000" stroke-width="1.1" />
<line x1="114.97" y1="446.20" x2="120.17" y2="446.20" stroke="#000" stroke-width="1.1" />
<circle cx="117.57" cy="439.70" r="3.20" fill="#000" stroke="none" stroke-width="0"/>
<line x1="148.18" y1="433.60" x2="148.18" y2="450.00" stroke="#000" stroke-width="1" />
<line x1="145.58" y1="433.60" x2="150.78" y2="433.60" stroke="#000" stroke-width="1.1" />
<line x1="145.58" y1="450.00" x2="150.78" y2="450.00" stroke="#000" stroke-width="1.1" />
<circle cx="148.18" cy="441.80" r="3.20" fill="#000" stroke="none" stroke-width="0"/>
<line x1="184.76" y1="449.60" x2="184.76" y2="465.60" stroke="#000" stroke-width="1" />
<line x1="182.16" y1="449.60" x2="187.36" y2="449.60" stroke="#000" stroke-width="1.1" />
<line x1="182.16" y1="465.60" x2="187.36" y2="465.60" stroke="#000" stroke-width="1.1" />
<circle cx="184.76" cy="457.60" r="3.20" fill="#000" stroke="none" stroke-width="0"/>
<line x1="228.74" y1="470.40" x2="228.74" y2="487.00" stroke="#000" stroke-width="1" />
<line x1="226.14" y1="470.40" x2="231.34" y2="470.40" stroke="#000" stroke-width="1.1" />
<line x1="226.14" y1="487.00" x2="231.34" y2="487.00" stroke="#000" stroke-width="1.1" />
<circle cx="228.74" cy="478.70" r="3.20" fill="#000" stroke="none" stroke-width="0"/>
<line x1="281.86" y1="483.40" x2="281.86" y2="501.40" stroke="#000" stroke-width="1" />
<line x1="279.26" y1="483.40" x2="284.46" y2="483.40" stroke="#000" stroke-width="1.1" />
<line x1="279.26" y1="501.40" x2="284.46" y2="501.40" stroke="#000" stroke-width="1.1" />
<circle cx="281.86" cy="492.40" r="3.20" fill="#000" stroke="none" stroke-width="0"/>
<line x1="375.50" y1="413.60" x2="375.50" y2="528.50" stroke="#383838" stroke-width="1" />
<line x1="375.50" y1="528.50" x2="656.52" y2="528.50" stroke="#383838" stroke-width="1" />
<line x1="375.40" y1="528.50" x2="375.40" y2="525.50" stroke="#383838" stroke-width="1" />
<text x="375.40" y="539.70" font-size="9.2" fill="#222" stroke="#222" stroke-width="0.15" text-anchor="middle" >0.2</text>
<line x1="410.54" y1="528.50" x2="410.54" y2="525.50" stroke="#383838" stroke-width="1" />
<text x="410.54" y="539.70" font-size="9.2" fill="#222" stroke="#222" stroke-width="0.15" text-anchor="middle" >0.3</text>
<line x1="445.68" y1="528.50" x2="445.68" y2="525.50" stroke="#383838" stroke-width="1" />
<text x="445.68" y="539.70" font-size="9.2" fill="#222" stroke="#222" stroke-width="0.15" text-anchor="middle" >0.4</text>
<line x1="480.82" y1="528.50" x2="480.82" y2="525.50" stroke="#383838" stroke-width="1" />
<text x="480.82" y="539.70" font-size="9.2" fill="#222" stroke="#222" stroke-width="0.15" text-anchor="middle" >0.5</text>
<line x1="515.96" y1="528.50" x2="515.96" y2="525.50" stroke="#383838" stroke-width="1" />
<text x="515.96" y="539.70" font-size="9.2" fill="#222" stroke="#222" stroke-width="0.15" text-anchor="middle" >0.6</text>
<line x1="551.10" y1="528.50" x2="551.10" y2="525.50" stroke="#383838" stroke-width="1" />
<text x="551.10" y="539.70" font-size="9.2" fill="#222" stroke="#222" stroke-width="0.15" text-anchor="middle" >0.7</text>
<line x1="586.24" y1="528.50" x2="586.24" y2="525.50" stroke="#383838" stroke-width="1" />
<text x="586.24" y="539.70" font-size="9.2" fill="#222" stroke="#222" stroke-width="0.15" text-anchor="middle" >0.8</text>
<line x1="621.38" y1="528.50" x2="621.38" y2="525.50" stroke="#383838" stroke-width="1" />
<text x="621.38" y="539.70" font-size="9.2" fill="#222" stroke="#222" stroke-width="0.15" text-anchor="middle" >0.9</text>
<line x1="656.52" y1="528.50" x2="656.52" y2="525.50" stroke="#383838" stroke-width="1" />
<text x="656.52" y="539.70" font-size="9.2" fill="#222" stroke="#222" stroke-width="0.15" text-anchor="middle" >1</text>
<line x1="375.40" y1="528.50" x2="378.40" y2="528.50" stroke="#383838" stroke-width="1" />
<text x="371.90" y="531.70" font-size="9" fill="#222" stroke="#222" stroke-width="0.15" text-anchor="end" >0.3</text>
<line x1="375.40" y1="505.52" x2="378.40" y2="505.52" stroke="#383838" stroke-width="1" />
<text x="371.90" y="508.72" font-size="9" fill="#222" stroke="#222" stroke-width="0.15" text-anchor="end" >0.35</text>
<line x1="375.40" y1="482.54" x2="378.40" y2="482.54" stroke="#383838" stroke-width="1" />
<text x="371.90" y="485.74" font-size="9" fill="#222" stroke="#222" stroke-width="0.15" text-anchor="end" >0.4</text>
<line x1="375.40" y1="459.56" x2="378.40" y2="459.56" stroke="#383838" stroke-width="1" />
<text x="371.90" y="462.76" font-size="9" fill="#222" stroke="#222" stroke-width="0.15" text-anchor="end" >0.45</text>
<line x1="375.40" y1="436.58" x2="378.40" y2="436.58" stroke="#383838" stroke-width="1" />
<text x="371.90" y="439.78" font-size="9" fill="#222" stroke="#222" stroke-width="0.15" text-anchor="end" >0.5</text>
<line x1="375.40" y1="413.60" x2="378.40" y2="413.60" stroke="#383838" stroke-width="1" />
<text x="371.90" y="416.80" font-size="9" fill="#222" stroke="#222" stroke-width="0.15" text-anchor="end" >0.55</text>
<text x="515.66" y="549.60" font-size="10.25" fill="#222" stroke="#222" stroke-width="0.15" text-anchor="middle" >Duration (sec)</text>
<text x="0" y="0" font-size="10.3" fill="#222" stroke="#222" stroke-width="0.15" text-anchor="middle" transform="translate(350.90,471.85) rotate(-90)">Reaction Time (sec)</text>
<polyline points="410.54,461.70 431.62,459.40 457.28,457.10 487.85,469.20 524.39,489.20 568.32,510.00 621.38,521.70" fill="none" stroke="#dc7e02" stroke-width="2.8" stroke-linejoin="round"/>
<line x1="410.54" y1="451.10" x2="410.54" y2="472.30" stroke="#dc7e02" stroke-width="1" />
<line x1="407.94" y1="451.10" x2="413.14" y2="451.10" stroke="#dc7e02" stroke-width="1.1" />
<line x1="407.94" y1="472.30" x2="413.14" y2="472.30" stroke="#dc7e02" stroke-width="1.1" />
<circle cx="410.54" cy="461.70" r="3.20" fill="#dc7e02" stroke="none" stroke-width="0"/>
<line x1="431.62" y1="448.80" x2="431.62" y2="470.00" stroke="#dc7e02" stroke-width="1" />
<line x1="429.02" y1="448.80" x2="434.22" y2="448.80" stroke="#dc7e02" stroke-width="1.1" />
<line x1="429.02" y1="470.00" x2="434.22" y2="470.00" stroke="#dc7e02" stroke-width="1.1" />
<circle cx="431.62" cy="459.40" r="3.20" fill="#dc7e02" stroke="none" stroke-width="0"/>
<line x1="457.28" y1="446.50" x2="457.28" y2="467.70" stroke="#dc7e02" stroke-width="1" />
<line x1="454.68" y1="446.50" x2="459.88" y2="446.50" stroke="#dc7e02" stroke-width="1.1" />
<line x1="454.68" y1="467.70" x2="459.88" y2="467.70" stroke="#dc7e02" stroke-width="1.1" />
<circle cx="457.28" cy="457.10" r="3.20" fill="#dc7e02" stroke="none" stroke-width="0"/>
<line x1="487.85" y1="461.20" x2="487.85" y2="477.20" stroke="#dc7e02" stroke-width="1" />
<line x1="485.25" y1="461.20" x2="490.45" y2="461.20" stroke="#dc7e02" stroke-width="1.1" />
<line x1="485.25" y1="477.20" x2="490.45" y2="477.20" stroke="#dc7e02" stroke-width="1.1" />
<circle cx="487.85" cy="469.20" r="3.20" fill="#dc7e02" stroke="none" stroke-width="0"/>
<line x1="524.39" y1="481.00" x2="524.39" y2="497.40" stroke="#dc7e02" stroke-width="1" />
<line x1="521.79" y1="481.00" x2="526.99" y2="481.00" stroke="#dc7e02" stroke-width="1.1" />
<line x1="521.79" y1="497.40" x2="526.99" y2="497.40" stroke="#dc7e02" stroke-width="1.1" />
<circle cx="524.39" cy="489.20" r="3.20" fill="#dc7e02" stroke="none" stroke-width="0"/>
<line x1="568.32" y1="502.70" x2="568.32" y2="517.30" stroke="#dc7e02" stroke-width="1" />
<line x1="565.72" y1="502.70" x2="570.92" y2="502.70" stroke="#dc7e02" stroke-width="1.1" />
<line x1="565.72" y1="517.30" x2="570.92" y2="517.30" stroke="#dc7e02" stroke-width="1.1" />
<circle cx="568.32" cy="510.00" r="3.20" fill="#dc7e02" stroke="none" stroke-width="0"/>
<line x1="621.38" y1="514.70" x2="621.38" y2="528.70" stroke="#dc7e02" stroke-width="1" />
<line x1="618.78" y1="514.70" x2="623.98" y2="514.70" stroke="#dc7e02" stroke-width="1.1" />
<line x1="618.78" y1="528.70" x2="623.98" y2="528.70" stroke="#dc7e02" stroke-width="1.1" />
<circle cx="621.38" cy="521.70" r="3.20" fill="#dc7e02" stroke="none" stroke-width="0"/>
<polyline points="410.54,450.00 431.62,451.80 457.28,447.30 487.85,449.10 524.39,459.20 568.32,489.20 621.38,500.50" fill="none" stroke="#000" stroke-width="2.8" stroke-linejoin="round"/>
<line x1="410.54" y1="443.80" x2="410.54" y2="456.20" stroke="#000" stroke-width="1" />
<line x1="407.94" y1="443.80" x2="413.14" y2="443.80" stroke="#000" stroke-width="1.1" />
<line x1="407.94" y1="456.20" x2="413.14" y2="456.20" stroke="#000" stroke-width="1.1" />
<circle cx="410.54" cy="450.00" r="3.20" fill="#000" stroke="none" stroke-width="0"/>
<line x1="431.62" y1="445.30" x2="431.62" y2="458.30" stroke="#000" stroke-width="1" />
<line x1="429.02" y1="445.30" x2="434.22" y2="445.30" stroke="#000" stroke-width="1.1" />
<line x1="429.02" y1="458.30" x2="434.22" y2="458.30" stroke="#000" stroke-width="1.1" />
<circle cx="431.62" cy="451.80" r="3.20" fill="#000" stroke="none" stroke-width="0"/>
<line x1="457.28" y1="440.50" x2="457.28" y2="454.10" stroke="#000" stroke-width="1" />
<line x1="454.68" y1="440.50" x2="459.88" y2="440.50" stroke="#000" stroke-width="1.1" />
<line x1="454.68" y1="454.10" x2="459.88" y2="454.10" stroke="#000" stroke-width="1.1" />
<circle cx="457.28" cy="447.30" r="3.20" fill="#000" stroke="none" stroke-width="0"/>
<line x1="487.85" y1="442.10" x2="487.85" y2="456.10" stroke="#000" stroke-width="1" />
<line x1="485.25" y1="442.10" x2="490.45" y2="442.10" stroke="#000" stroke-width="1.1" />
<line x1="485.25" y1="456.10" x2="490.45" y2="456.10" stroke="#000" stroke-width="1.1" />
<circle cx="487.85" cy="449.10" r="3.20" fill="#000" stroke="none" stroke-width="0"/>
<line x1="524.39" y1="450.30" x2="524.39" y2="468.10" stroke="#000" stroke-width="1" />
<line x1="521.79" y1="450.30" x2="526.99" y2="450.30" stroke="#000" stroke-width="1.1" />
<line x1="521.79" y1="468.10" x2="526.99" y2="468.10" stroke="#000" stroke-width="1.1" />
<circle cx="524.39" cy="459.20" r="3.20" fill="#000" stroke="none" stroke-width="0"/>
<line x1="568.32" y1="481.30" x2="568.32" y2="497.10" stroke="#000" stroke-width="1" />
<line x1="565.72" y1="481.30" x2="570.92" y2="481.30" stroke="#000" stroke-width="1.1" />
<line x1="565.72" y1="497.10" x2="570.92" y2="497.10" stroke="#000" stroke-width="1.1" />
<circle cx="568.32" cy="489.20" r="3.20" fill="#000" stroke="none" stroke-width="0"/>
<line x1="621.38" y1="491.00" x2="621.38" y2="510.00" stroke="#000" stroke-width="1" />
<line x1="618.78" y1="491.00" x2="623.98" y2="491.00" stroke="#000" stroke-width="1.1" />
<line x1="618.78" y1="510.00" x2="623.98" y2="510.00" stroke="#000" stroke-width="1.1" />
<circle cx="621.38" cy="500.50" r="3.20" fill="#000" stroke="none" stroke-width="0"/>
<rect x="83.00" y="562.20" width="492.40" height="33.80" fill="none" stroke="#000" stroke-width="2"/>
<line x1="93.80" y1="579.50" x2="130.60" y2="579.50" stroke="#000" stroke-width="4" />
<text x="134.80" y="585.20" font-size="19" fill="#000" stroke="#000" stroke-width="0.05" text-anchor="start" >Baseline</text>
<line x1="287.00" y1="578.80" x2="323.60" y2="578.80" stroke="#1a3cf5" stroke-width="3.8" />
<text x="327.60" y="585.20" font-size="19" fill="#000" stroke="#000" stroke-width="0.05" text-anchor="start" >Alpha</text>
<line x1="480.60" y1="579.90" x2="517.30" y2="579.60" stroke="#fd8c08" stroke-width="3.9" />
<text x="523.90" y="585.80" font-size="19" fill="#000" stroke="#000" stroke-width="0.05" text-anchor="start" >Beta</text>
</svg></body></html>
